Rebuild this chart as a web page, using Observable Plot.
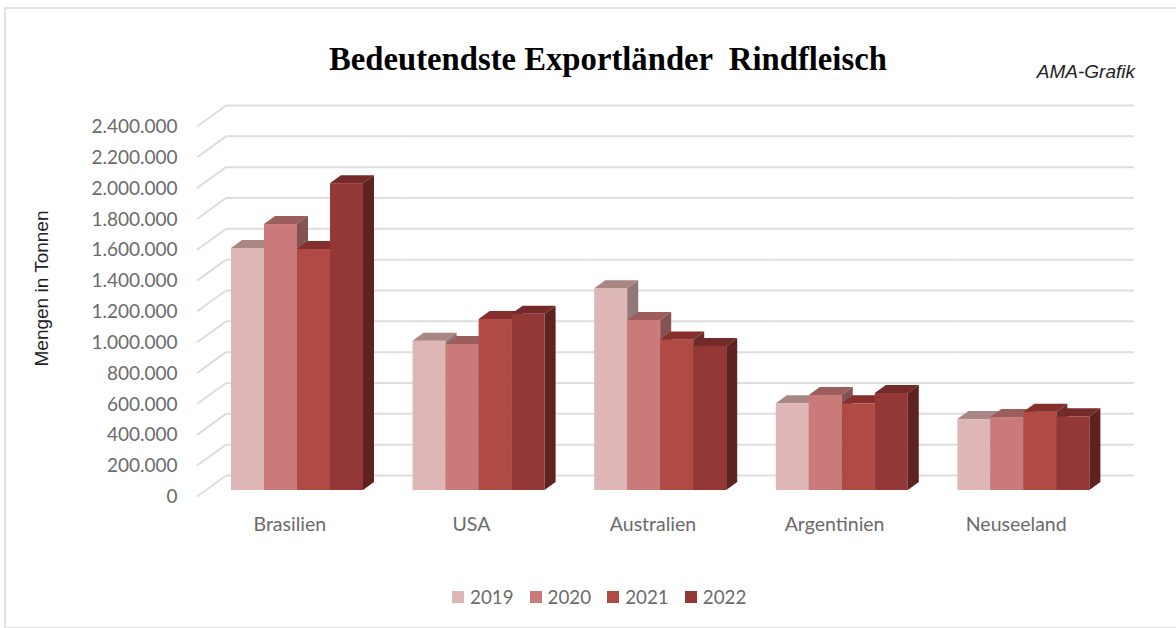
<!DOCTYPE html>
<html lang="de">
<head>
<meta charset="utf-8">
<title>Bedeutendste Exportländer Rindfleisch</title>
<script src="https://cdn.jsdelivr.net/npm/d3@7"></script>
<script src="https://cdn.jsdelivr.net/npm/@observablehq/plot@0.6"></script>
<style>
  html, body { margin: 0; padding: 0; background: #fff; overflow: hidden; }
  #page { position: relative; width: 1176px; height: 628px; overflow: hidden; }
  #card { position: absolute; left: 4px; top: 7px; width: 1200px; height: 618px; border: 2px solid #e2e2e2; box-sizing: content-box; }
  #title { position: absolute; left: 329px; top: 39px; font: bold 32.7px "Liberation Serif", serif; color: #000; white-space: pre; line-height: 40px; }
  #source { position: absolute; right: 41px; top: 62px; font: italic 19px "Liberation Sans", sans-serif; color: #222; line-height: 20px; }
  #chart { position: absolute; left: 0; top: 95px; }
  #chart svg { display: block; }
  #legend { position: absolute; left: 452px; top: 580px; }
  #legend .lg-swatch { margin-right: 16px; }
  #legend .lg-swatch > svg { margin-right: 6px; }
  #legend, #legend * { font-family: Lato, sans-serif; font-size: 18.8px; color: #6b6b6b; }
</style>
</head>
<body>
<div id="page">
  <div id="card"></div>
  <div id="title">Bedeutendste Exportländer  Rindfleisch</div>
  <div id="source">AMA-Grafik</div>
  <div id="chart"></div>
  <div id="legend"></div>
</div>
<script>
const countries = ["Brasilien", "USA", "Australien", "Argentinien", "Neuseeland"];
const years = ["2019", "2020", "2021", "2022"];
const v2019 = [1570000, 968000, 1308000, 562000, 460000];
const v2020 = [1725000, 947000, 1103000, 616000, 473000];
const v2021 = [1563000, 1109000, 977000, 562000, 508000];
const v2022 = [1990000, 1143000, 934000, 629000, 478000];
const yTicks = [0, 200000, 400000, 600000, 800000, 1000000, 1200000, 1400000, 1600000, 1800000, 2000000, 2200000, 2400000];
const frontColors = ["#deb6b5", "#c97a79", "#b04a45", "#933836"];
const topColors = ["#a98584", "#9b5e5c", "#862f2d", "#742a28"];
const sideColors = ["#917776", "#835352", "#6f2c2a", "#5e2321"];

const rows = countries.flatMap((country, i) =>
  [v2019, v2020, v2021, v2022].map((series, j) => ({country, year: years[j], value: series[i]}))
);

const german = d3.formatLocale({decimal: ",", thousands: ".", grouping: [3], currency: ["", "€"]}).format(",d");
const svgNS = "http://www.w3.org/2000/svg";
const depth = [11, -8];      // bar depth on screen
const wall = [29, -21];      // floor depth on screen

function face(fill, pts) {
  const p = document.createElementNS(svgNS, "polygon");
  p.setAttribute("fill", fill);
  p.setAttribute("points", pts.map(d => d.join(",")).join(" "));
  return p;
}

// Adds the top and side faces to each bar Plot has drawn, in drawing order.
function extrude(index, scales, values, dimensions, context, next) {
  const g = next(index, scales, values, dimensions, context);
  const rects = Array.from(g.querySelectorAll("rect"));
  rects.forEach((rect, k) => {
    const x = +rect.getAttribute("x"), y = +rect.getAttribute("y");
    const w = +rect.getAttribute("width"), h = +rect.getAttribute("height");
    const c = years.indexOf(rows[index[k]].year);
    const [dx, dy] = depth;
    const top = face(topColors[c], [[x, y], [x + dx, y + dy], [x + w + dx, y + dy], [x + w, y]]);
    const side = face(sideColors[c], [[x + w, y], [x + w + dx, y + dy], [x + w + dx, y + h + dy], [x + w, y + h]]);
    rect.after(top, side);
  });
  return g;
}

// Turns each floor-line rule into the short diagonal on the left wall.
function diagonal(index, scales, values, dimensions, context, next) {
  const g = next(index, scales, values, dimensions, context);
  g.querySelectorAll("line").forEach(l => {
    const x1 = +l.getAttribute("x1"), y1 = +l.getAttribute("y1");
    l.setAttribute("x2", x1 + wall[0]);
    l.setAttribute("y2", y1 + wall[1]);
  });
  return g;
}

const chart = Plot.plot({
  width: 1176,
  height: 445,
  marginLeft: 197,
  marginRight: 71,
  marginTop: 31,
  marginBottom: 44,
  style: {background: "transparent", overflow: "visible"},
  fx: {domain: countries, padding: 0, round: false, label: null},
  x: {domain: years, paddingInner: 0, paddingOuter: 0.752, round: false, axis: null},
  y: {domain: [0, 2400000], label: null},
  color: {domain: years, range: frontColors},
  marks: [
    Plot.ruleY(yTicks, {dx: wall[0], dy: wall[1], stroke: "#dedede", strokeWidth: 2}),
    Plot.ruleY(yTicks, {facetAnchor: "left", stroke: "#dedede", strokeWidth: 2, render: diagonal}),
    Plot.axisY(yTicks, {tickSize: 0, tickPadding: 20, dy: 0.5, tickFormat: german, label: null, fontSize: 19, fontFamily: "Lato, sans-serif", fill: "#6b6b6b"}),
    Plot.axisFx({anchor: "bottom", tickSize: 0, tickPadding: 21, dx: 1.5, label: null, fontSize: 19.5, fontFamily: "Lato, sans-serif", fill: "#6b6b6b"}),
    Plot.text(["Mengen in Tonnen"], {facet: "super", frameAnchor: "left", rotate: -90, dx: -156, dy: 55, fontSize: 19, fontFamily: "Liberation Sans, sans-serif", fill: "#222"}),
    Plot.barY(rows, {fx: "country", x: "year", y: "value", fill: "year", dx: 9.2, dy: -6, render: extrude})
  ]
});
document.getElementById("chart").append(chart);
document.getElementById("legend").append(chart.legend("color", {legend: "swatches", swatchSize: 12, marginLeft: 0, className: "lg"}));
</script>
</body>
</html>
